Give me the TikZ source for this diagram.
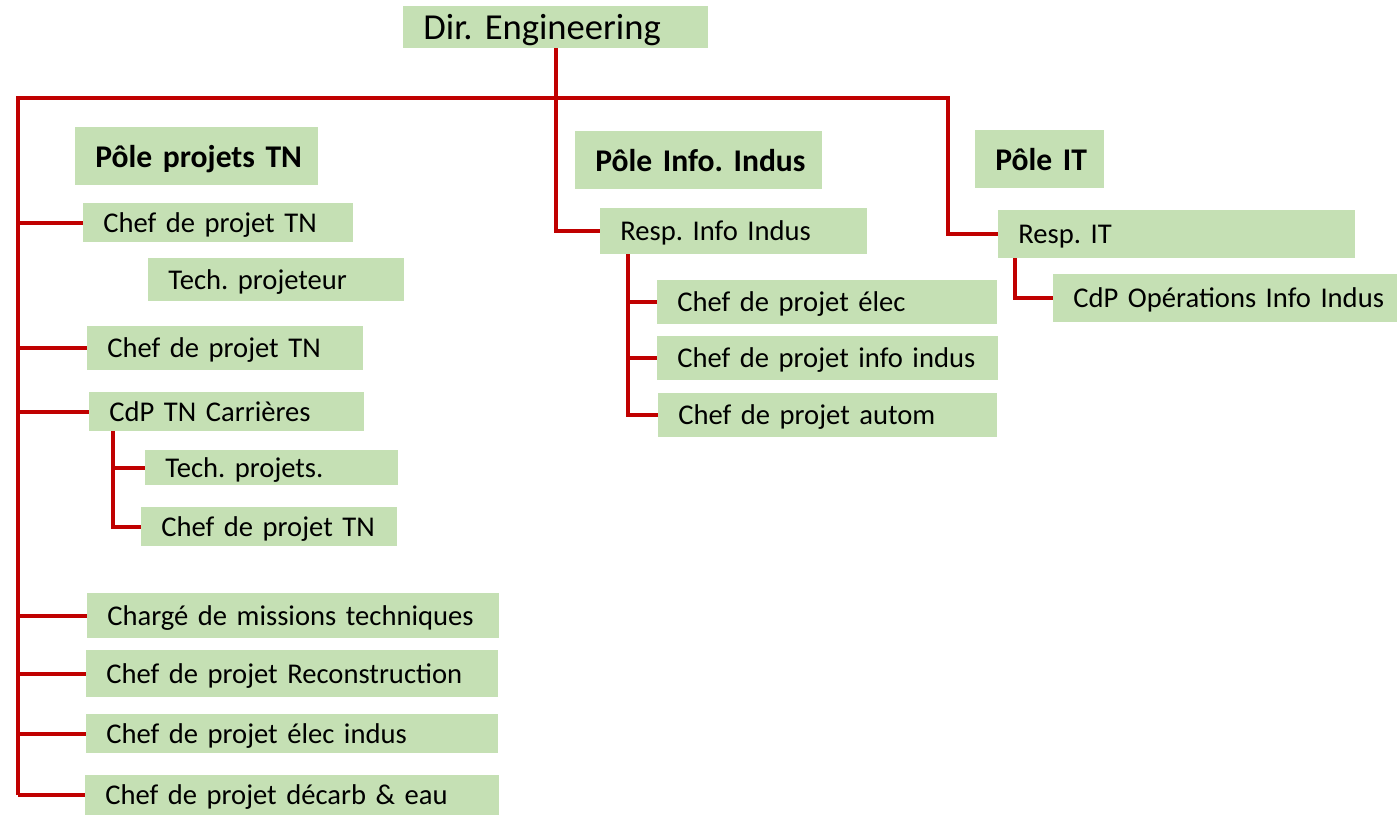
\documentclass[tikz,border=0pt]{standalone}
\usepackage{fontspec}
\setmainfont{Carlito}
\usetikzlibrary{positioning,calc}
\definecolor{boxgreen}{RGB}{197,224,180}
\definecolor{linkred}{RGB}{192,0,0}
\frenchspacing

\begin{document}
\begin{tikzpicture}[x=0.5pt,y=-0.5pt,
	box/.style={fill=boxgreen,anchor=west,inner xsep=0pt,inner ysep=0pt,align=left,text depth=0pt,
		execute at begin node=\hspace*{10pt},font=\fontsize{14.3}{17}\selectfont},
	head/.style={box,font=\fontsize{15.8}{19}\selectfont\bfseries},
	link/.style={draw=linkred,line width=2pt}]
\useasboundingbox (0,0) rectangle (1398,815);

% top
\node[box,font=\fontsize{18.3}{22}\selectfont,text width=152.5pt,minimum height=21pt](dir) at (403,27) {Dir. Engineering};

% poles
\node[head,text width=121.5pt,minimum height=29pt](poleTN) at (75,156) {Pôle projets TN};
\node[head,text width=123.5pt,minimum height=29pt](poleII) at (575,160) {Pôle Info. Indus};
\node[head,text width=64.5pt,minimum height=29pt](poleIT) at (975,159) {Pôle IT};

% pole info indus
\node[box,text width=133.5pt,minimum height=23pt](respII) at (600,231) {Resp. Info Indus};
\node[box,text width=170pt,minimum height=22pt](elec) at (657,302) {Chef de projet élec};
\node[box,text width=170.5pt,minimum height=22pt](infoind) at (657,358) {Chef de projet info indus};
\node[box,text width=169.5pt,minimum height=22pt](autom) at (658,415) {Chef de projet autom};

% pole IT
\node[box,text width=178.5pt,minimum height=24pt](respIT) at (998,234) {Resp. IT};
\node[box,text width=172pt,minimum height=24pt](cdpOps) at (1053,298) {CdP Opérations Info Indus};

% pole projets TN
\node[box,text width=135pt,minimum height=19.5pt](cdp1) at (83,222.5) {Chef de projet TN};
\node[box,text width=128pt,minimum height=21.5pt](techpjt) at (148,279.5) {Tech. projeteur};
\node[box,text width=138pt,minimum height=22pt](cdp2) at (87,348) {Chef de projet TN};
\node[box,text width=137.5pt,minimum height=19.5pt](carr) at (89,411.5) {CdP TN Carrières};
\node[box,text width=126.5pt,minimum height=17.5pt](techp) at (145,467.5) {Tech. projets.};
\node[box,text width=128pt,minimum height=19.5pt](cdp3) at (141,526.5) {Chef de projet TN};
\node[box,text width=206pt,minimum height=22.5pt](charge) at (87,615.5) {Chargé de missions techniques};
\node[box,text width=206pt,minimum height=23.5pt](recon) at (86,673.5) {Chef de projet Reconstruction};
\node[box,text width=206pt,minimum height=19.5pt](elecind) at (86,733.5) {Chef de projet élec indus};
\node[box,text width=207pt,minimum height=20pt](decarb) at (85,795) {Chef de projet décarb \& eau};

% connectors
\coordinate(trunk) at (18,98);
\coordinate(itturn) at (948,98);
\coordinate(carrfoot) at ($(carr.south west)+(24,0)$);
\coordinate(iifoot) at ($(respII.south west)+(28,0)$);
\coordinate(itfoot) at ($(respIT.south west)+(17,0)$);

\draw[link] (trunk |- decarb.west) -- (trunk) -- (itturn) |- (respIT.west);
\draw[link] (dir.south) |- (respII.west);
\foreach \n in {cdp1,cdp2,carr,charge,recon,elecind,decarb}
	\draw[link] (trunk |- \n.west) -- (\n.west);
\draw[link] (carrfoot) |- (cdp3.west);
\draw[link] (carrfoot |- techp.west) -- (techp.west);
\draw[link] (iifoot) |- (autom.west);
\foreach \n in {elec,infoind}
	\draw[link] (iifoot |- \n.west) -- (\n.west);
\draw[link] (itfoot) |- (cdpOps.west);

\end{tikzpicture}
\end{document}
